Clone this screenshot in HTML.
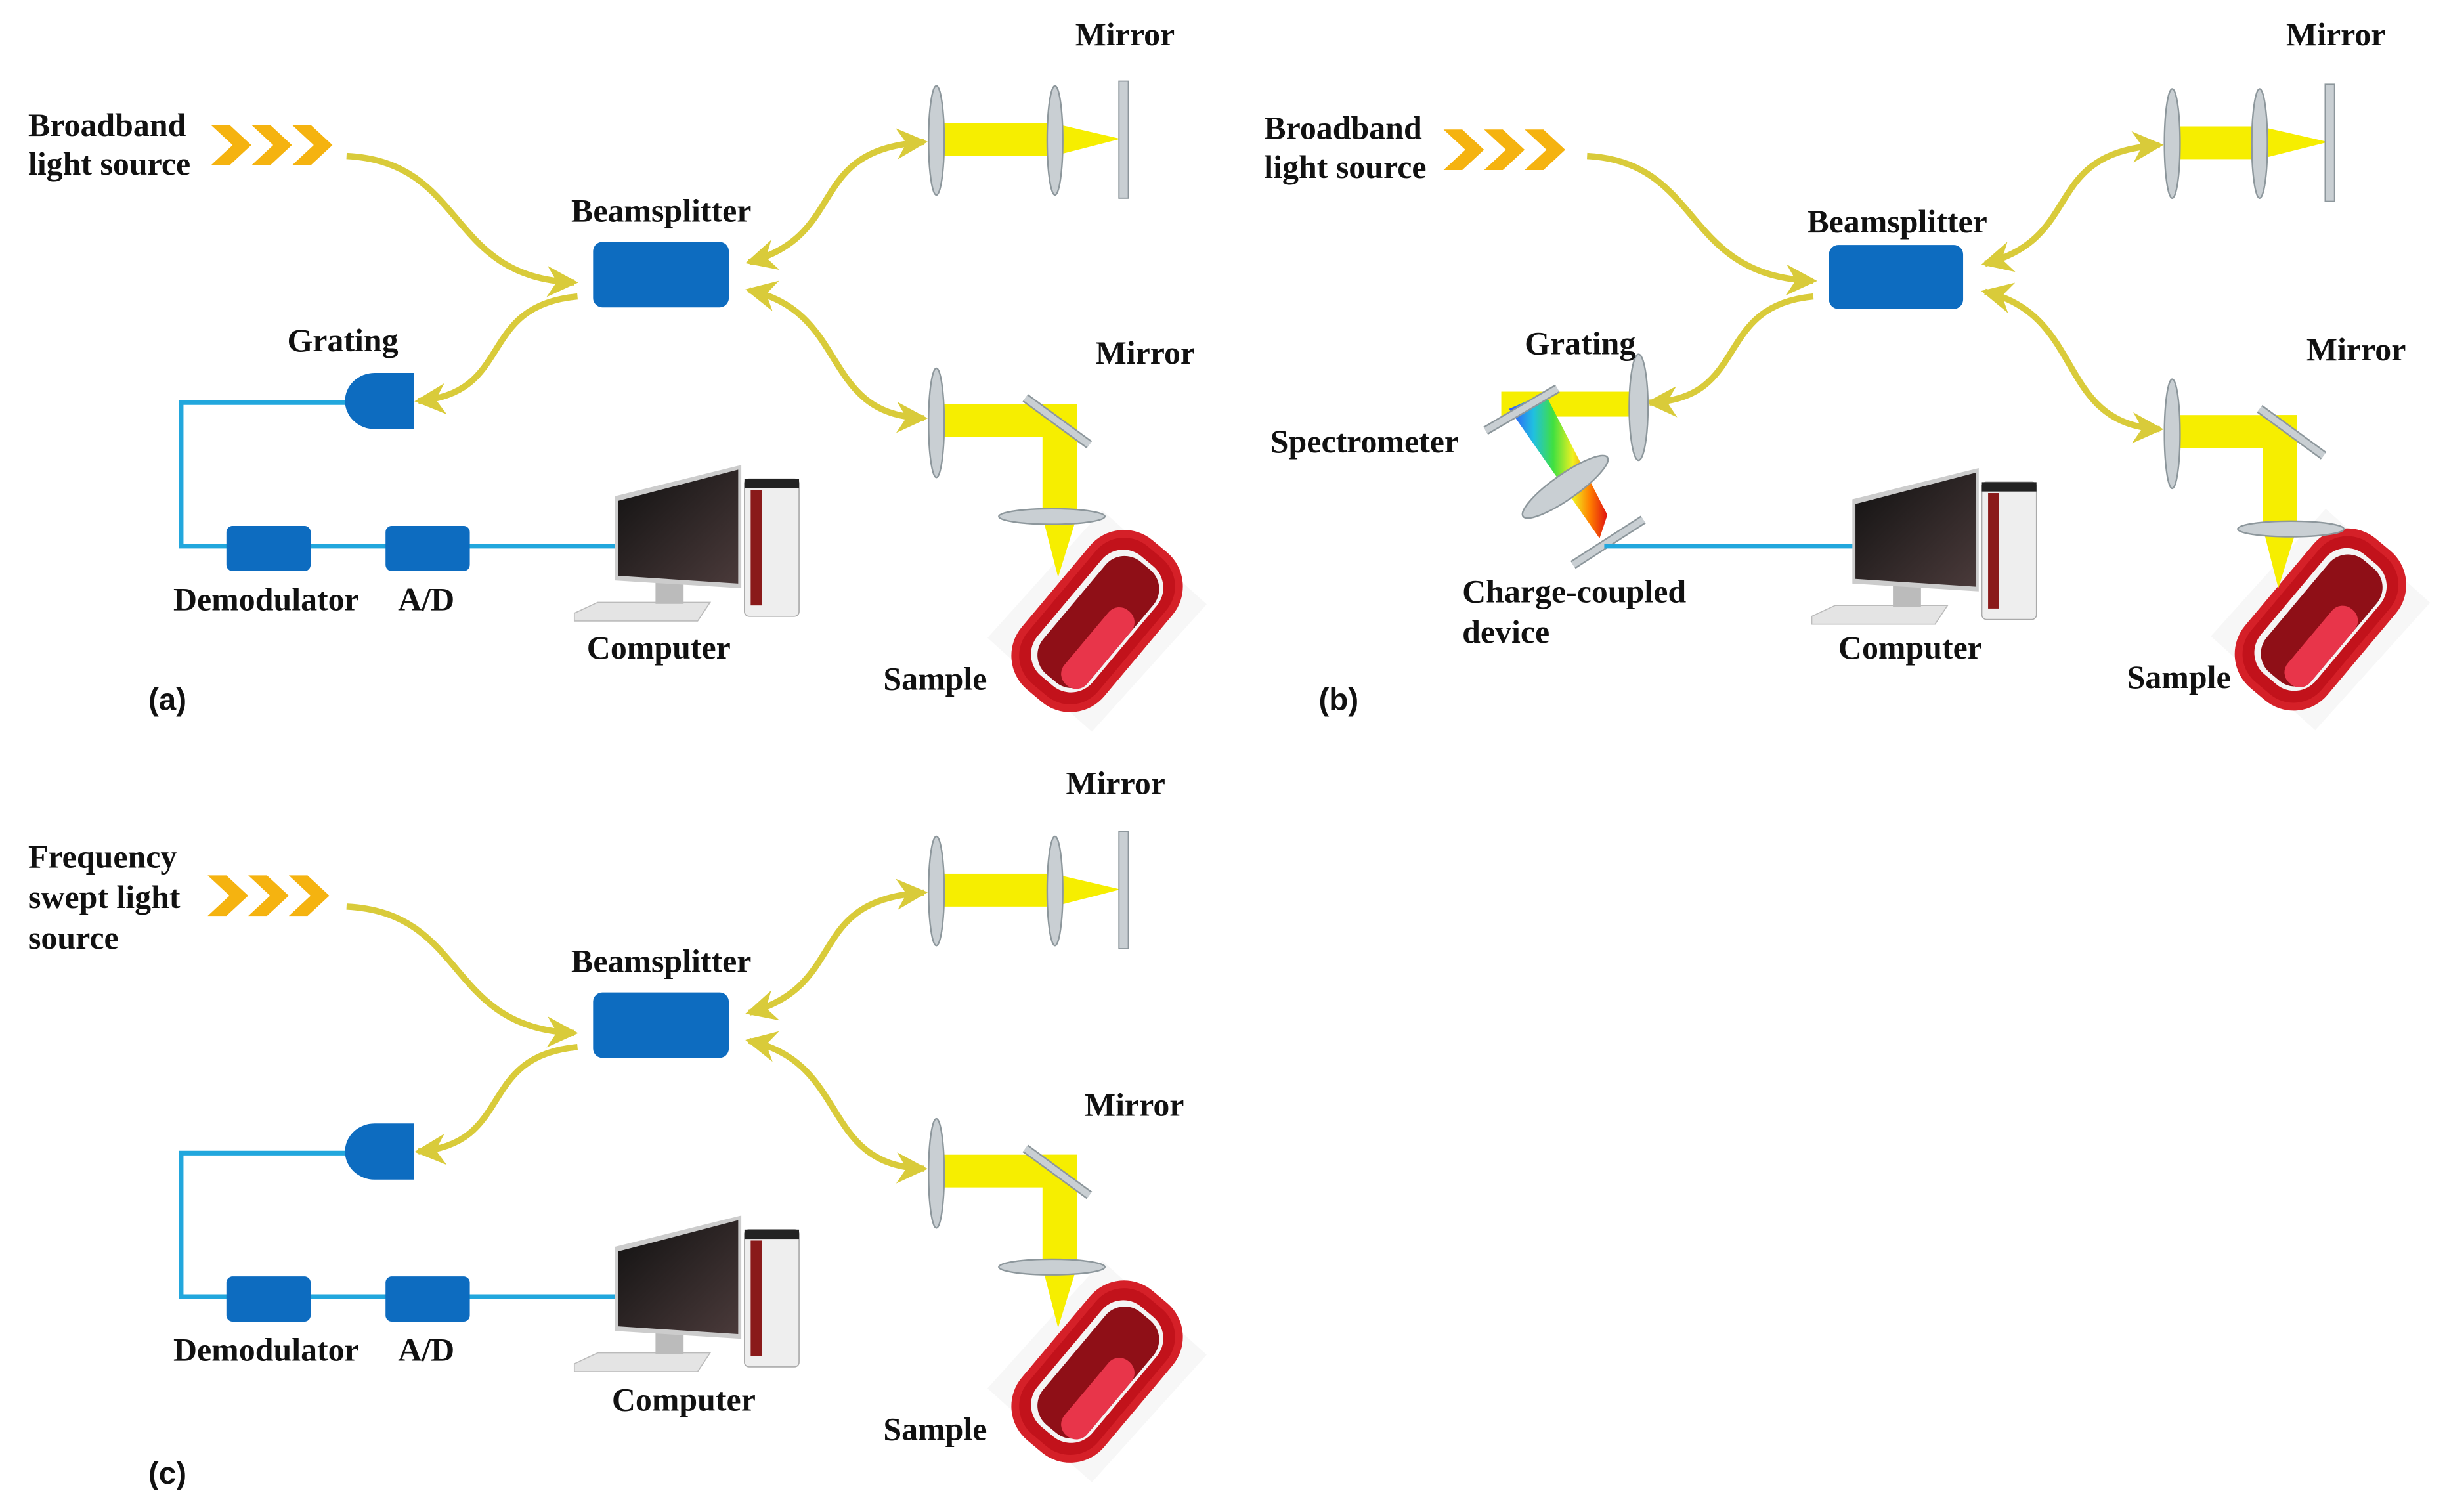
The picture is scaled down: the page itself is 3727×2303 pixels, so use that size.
<!DOCTYPE html>
<html><head><meta charset="utf-8"><style>
html,body{margin:0;padding:0;background:#fff;}
svg{display:block;}
text{font-family:"Liberation Serif",serif;font-weight:bold;font-size:21px;fill:#111;}
.lab{font-family:"Liberation Sans",sans-serif;font-size:20px;}
</style></head><body>
<svg width="3727" height="2303" viewBox="0 0 1568 969" xmlns="http://www.w3.org/2000/svg">
<defs>
<marker id="ah" markerUnits="userSpaceOnUse" markerWidth="20" markerHeight="20" refX="14" refY="8" orient="auto-start-reverse" viewBox="0 0 16 16">
<path d="M0,0 L16,8 L0,16 L5,8 Z" fill="#d9cb3a"/></marker>
<linearGradient id="rb" x1="0" y1="0" x2="1" y2="0">
<stop offset="0" stop-color="#3050ff"/><stop offset="0.25" stop-color="#20c0e0"/><stop offset="0.45" stop-color="#40e040"/><stop offset="0.65" stop-color="#f0f020"/><stop offset="0.82" stop-color="#ff8000"/><stop offset="1" stop-color="#e01010"/></linearGradient>
<linearGradient id="scr" x1="0" y1="0" x2="1" y2="1"><stop offset="0" stop-color="#111"/><stop offset="1" stop-color="#4a3a3a"/></linearGradient>
<g id="chev" fill="#f5b310">
<path d="M0,0 h12 l14,13 l-14,13 h-12 l14,-13 Z"/>
<path d="M26,0 h12 l14,13 l-14,13 h-12 l14,-13 Z"/>
<path d="M52,0 h12 l14,13 l-14,13 h-12 l14,-13 Z"/>
</g>
<g id="comp">
<polygon points="-27,43 -12,36 60,36 52,48 -27,48" fill="#e4e4e4" stroke="#bbb" stroke-width="0.7"/>
<rect x="25" y="20" width="18" height="17" fill="#bbb"/>
<polygon points="-1,-32 80,-52 80,27 -1,22" fill="#ccc"/>
<polygon points="1,-29 78,-49 78,24 1,19" fill="url(#scr)"/>
<rect x="82" y="-43" width="35" height="88" rx="3" fill="#eee" stroke="#aaa" stroke-width="0.7"/>
<rect x="86" y="-36" width="7" height="74" fill="#8a1a1a"/>
<rect x="82" y="-43" width="35" height="6" fill="#222"/>
</g>
<g id="mouth">
<rect x="-50" y="-50" width="100" height="100" fill="#f7f7f7" transform="rotate(42) scale(0.9,1.1)"/>
<g transform="rotate(-50)">
<rect x="-60" y="-32" width="120" height="64" rx="26" fill="#c2121b" stroke="#6a0a0a" stroke-width="1.5"/>
<rect x="-50" y="-23" width="100" height="46" rx="18" fill="#f4f4f4"/>
<rect x="-47" y="-19" width="94" height="40" rx="16" fill="#8f0f17"/>
<rect x="-44" y="2" width="62" height="19" rx="9" fill="#e8354a"/>
<rect x="-60" y="-32" width="120" height="64" rx="26" fill="none" stroke="#d52028" stroke-width="5"/>
</g>
</g>
<g id="lensV"><ellipse cx="0" cy="0" rx="5" ry="35" fill="#c9cfd3" stroke="#8d979c" stroke-width="1"/></g>
<g id="arms">
<rect x="600" y="79" width="75" height="21" fill="#f6ee00"/>
<polygon points="675,79 718,89 675,100" fill="#f6ee00"/>
<use href="#lensV" x="600" y="90"/>
<use href="#lensV" x="676" y="90"/>
<rect x="717" y="52" width="6" height="75" fill="#c9cfd3" stroke="#8d979c" stroke-width="0.8"/>
<use href="#mouth" x="703" y="398"/>
<rect x="600" y="259" width="90" height="21" fill="#f6ee00"/>
<rect x="668" y="259" width="22" height="72" fill="#f6ee00"/>
<polygon points="668,331 690,331 678,370" fill="#f6ee00"/>
<use href="#lensV" x="600" y="271"/>
<line x1="657" y1="255" x2="698" y2="285" stroke="#8d979c" stroke-width="6"/>
<line x1="657" y1="255" x2="698" y2="285" stroke="#c9cfd3" stroke-width="4"/>
<ellipse cx="674" cy="331" rx="34" ry="5" fill="#c9cfd3" stroke="#8d979c" stroke-width="1"/>
<rect x="380" y="155" width="87" height="42" rx="6" fill="#0d6cc0"/>
<g fill="none" stroke="#d9cb3a" stroke-width="4">
<path d="M222,100 C300,104 285,178 368,181" marker-end="url(#ah)"/>
<path d="M480,168 C545,150 515,96 592,91" marker-start="url(#ah)" marker-end="url(#ah)"/>
<path d="M480,186 C545,200 525,266 592,268" marker-start="url(#ah)" marker-end="url(#ah)"/>
<path d="M370,190 C305,196 330,252 268,257" marker-end="url(#ah)"/>
</g>
<path d="M240,258 H116 V350 H400" fill="none" stroke="#22a7dd" stroke-width="3"/>
<path d="M245,239 h-5 a19,18 0 0 0 0,36 h25 v-36 Z" fill="#0d6cc0"/>
<rect x="145" y="337" width="54" height="29" rx="4" fill="#0d6cc0"/>
<rect x="247" y="337" width="54" height="29" rx="4" fill="#0d6cc0"/>
<use href="#comp" x="395" y="350"/>
<text x="366" y="142">Beamsplitter</text>
<text x="111" y="391">Demodulator</text>
<text x="255" y="391">A/D</text>
<text x="566" y="442">Sample</text>
</g>
</defs>

<use href="#arms" x="0" y="0"/>
<use href="#chev" x="135" y="80"/>
<text x="18" y="87">Broadband</text>
<text x="18" y="112">light source</text>
<text x="184" y="225">Grating</text>
<text x="689" y="29">Mirror</text>
<text x="702" y="233">Mirror</text>
<text x="376" y="422">Computer</text>
<text class="lab" x="95" y="455">(a)</text>

<use href="#arms" x="0" y="481"/>
<use href="#chev" x="133" y="561"/>
<text x="18" y="556">Frequency</text>
<text x="18" y="582">swept light</text>
<text x="18" y="608">source</text>
<text x="683" y="509">Mirror</text>
<text x="695" y="715">Mirror</text>
<text x="392" y="904">Computer</text>
<text class="lab" x="95" y="951">(c)</text>

<g transform="translate(792,2)">
<rect x="600" y="79" width="56" height="21" fill="#f6ee00"/>
<polygon points="656,79 700,89 656,100" fill="#f6ee00"/>
<use href="#lensV" x="600" y="90"/>
<use href="#lensV" x="656" y="90"/>
<rect x="698" y="52" width="6" height="75" fill="#c9cfd3" stroke="#8d979c" stroke-width="0.8"/>
<use href="#mouth" x="695" y="395"/>
<rect x="600" y="264" width="80" height="21" fill="#f6ee00"/>
<rect x="658" y="264" width="22" height="72" fill="#f6ee00"/>
<polygon points="658,336 680,336 668,375" fill="#f6ee00"/>
<use href="#lensV" x="600" y="276"/>
<line x1="656" y1="260" x2="697" y2="290" stroke="#8d979c" stroke-width="6"/>
<line x1="656" y1="260" x2="697" y2="290" stroke="#c9cfd3" stroke-width="4"/>
<ellipse cx="676" cy="337" rx="34" ry="5" fill="#c9cfd3" stroke="#8d979c" stroke-width="1"/>
<rect x="380" y="155" width="86" height="41" rx="6" fill="#0d6cc0"/>
<g fill="none" stroke="#d9cb3a" stroke-width="4">
<path d="M225,98 C300,102 285,175 370,178" marker-end="url(#ah)"/>
<path d="M480,167 C545,150 515,96 592,91" marker-start="url(#ah)" marker-end="url(#ah)"/>
<path d="M480,185 C545,200 525,270 592,273" marker-start="url(#ah)" marker-end="url(#ah)"/>
<path d="M370,188 C305,194 330,254 265,256" marker-end="url(#ah)"/>
</g>
</g>
<rect x="962" y="251" width="88" height="16" fill="#f6ee00"/>
<polygon points="967,262 990,252 1030,330 1025,345" fill="url(#rb)"/>
<line x1="952" y1="276" x2="998" y2="249" stroke="#8d979c" stroke-width="6"/>
<line x1="952" y1="276" x2="998" y2="249" stroke="#c9cfd3" stroke-width="4"/>
<ellipse cx="1050" cy="261" rx="6" ry="34" fill="#c9cfd3" stroke="#8d979c" stroke-width="1"/>
<ellipse cx="1003" cy="312" rx="8" ry="33" fill="#c9cfd3" stroke="#8d979c" stroke-width="1" transform="rotate(55 1003 312)"/>
<line x1="1008" y1="362" x2="1053" y2="333" stroke="#8d979c" stroke-width="6"/>
<line x1="1008" y1="362" x2="1053" y2="333" stroke="#c9cfd3" stroke-width="4"/>
<line x1="1028" y1="350" x2="1192" y2="350" stroke="#22a7dd" stroke-width="3"/>
<use href="#comp" x="1188" y="352"/>
<text x="810" y="89">Broadband</text>
<text x="810" y="114">light source</text>
<use href="#chev" x="925" y="83"/>
<text x="1158" y="149">Beamsplitter</text>
<text x="977" y="227">Grating</text>
<text x="814" y="290">Spectrometer</text>
<text x="937" y="386">Charge-coupled</text>
<text x="937" y="412">device</text>
<text x="1178" y="422">Computer</text>
<text x="1465" y="29">Mirror</text>
<text x="1478" y="231">Mirror</text>
<text x="1363" y="441">Sample</text>
<text class="lab" x="845" y="455">(b)</text>
</svg>
</body></html>
